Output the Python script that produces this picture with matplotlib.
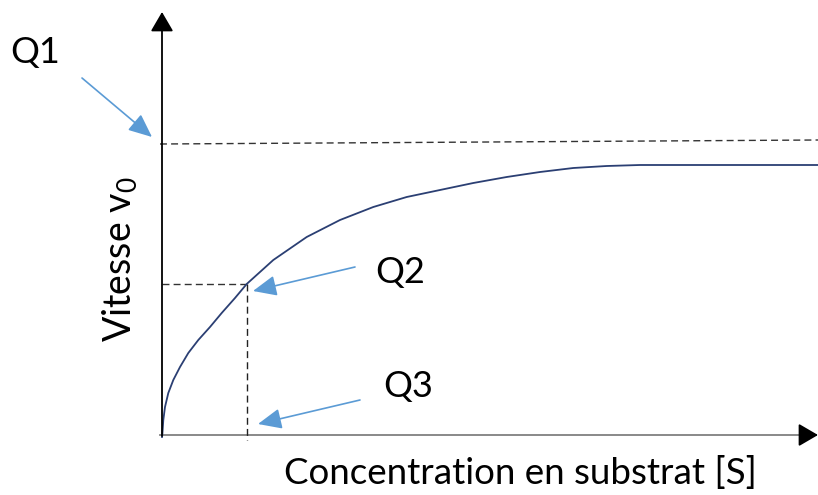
import matplotlib
matplotlib.use("Agg")
import matplotlib.pyplot as plt

plt.rcParams["font.family"] = ["Lato", "DejaVu Sans"]
plt.rcParams["mathtext.fontset"] = "custom"
plt.rcParams["mathtext.rm"] = "Lato"

# courbe v0 = f([S]) (unites du dessin, origine = croisement des axes)
s_vals = [0, 0.3, 1.3, 3, 6.3, 11.3, 18, 26.3, 36.3, 48, 59.7, 73, 84.7,
          111.3, 144.7, 178, 211.3, 244.7, 278, 311.3, 344.7, 378, 411.3,
          444.7, 478, 656]
v_vals = [0, 2, 17, 30, 44, 57, 70, 84, 97, 110, 124, 139, 153,
          177, 200, 217, 230, 240, 247, 254, 260, 265, 269,
          271, 272, 272]

# Vmax (Q1) et point Km / Vmax/2 (Q2, Q3)
vmax_x = [-2, 656]
vmax_y = [293, 297]
km_s = 85
km_v = 153

labels = ["Q1", "Q2", "Q3"]
label_pos = [(-127, 385), (238, 165), (246, 50)]
arrow_from = [(-80, 359), (193, 170), (198, 37)]
arrow_to = [(-10, 300), (91, 146), (96, 13)]

fig = plt.figure(figsize=(8.18, 4.95), dpi=100)
ax = fig.add_axes([0, 0, 1, 1])
ax.set_xlim(-162, 656)
ax.set_ylim(-58, 437)
ax.axis("off")

# axes
ax.plot([-2, 642], [2, 2], color="#808080", lw=1.3)
ax.annotate("", xy=(656, 2), xytext=(640, 2),
            arrowprops=dict(arrowstyle="-|>,head_length=0.6,head_width=0.35",
                            color="black", lw=1.3, mutation_scale=20,
                            shrinkA=0, shrinkB=0))
ax.annotate("", xy=(0, 425), xytext=(0, 1),
            arrowprops=dict(arrowstyle="-|>,head_length=0.6,head_width=0.35",
                            color="black", lw=1.3, mutation_scale=20,
                            shrinkA=0, shrinkB=0))

# pointilles
ax.plot(vmax_x, vmax_y, color="#333333", lw=1.0, ls=(0, (5, 3)))
ax.plot([0, km_s], [km_v, km_v], color="#333333", lw=1.0, ls=(0, (5, 3)))
ax.plot([km_s, km_s], [km_v, -3], color="#222222", lw=1.0, ls=(0, (5, 3)))

# courbe
ax.plot(s_vals, v_vals, color="#2b3f73", lw=1.3)

# fleches bleues et etiquettes
for lab, pos, a, b in zip(labels, label_pos, arrow_from, arrow_to):
    ax.annotate("", xy=b, xytext=a,
                arrowprops=dict(arrowstyle="-|>,head_length=0.8,head_width=0.35",
                                color="#5b9bd5", lw=1.2, mutation_scale=18,
                                shrinkA=0, shrinkB=0))
    ax.text(pos[0], pos[1], lab, fontsize=26, ha="center", va="center")

ax.text(358, -36, "Concentration en substrat [S]", fontsize=26.5,
        ha="center", va="center")
ax.text(-42, 178, "Vitesse v$_\\mathrm{0}$", fontsize=27, rotation=90,
        ha="center", va="center")

fig.savefig("out.png", dpi=100)
